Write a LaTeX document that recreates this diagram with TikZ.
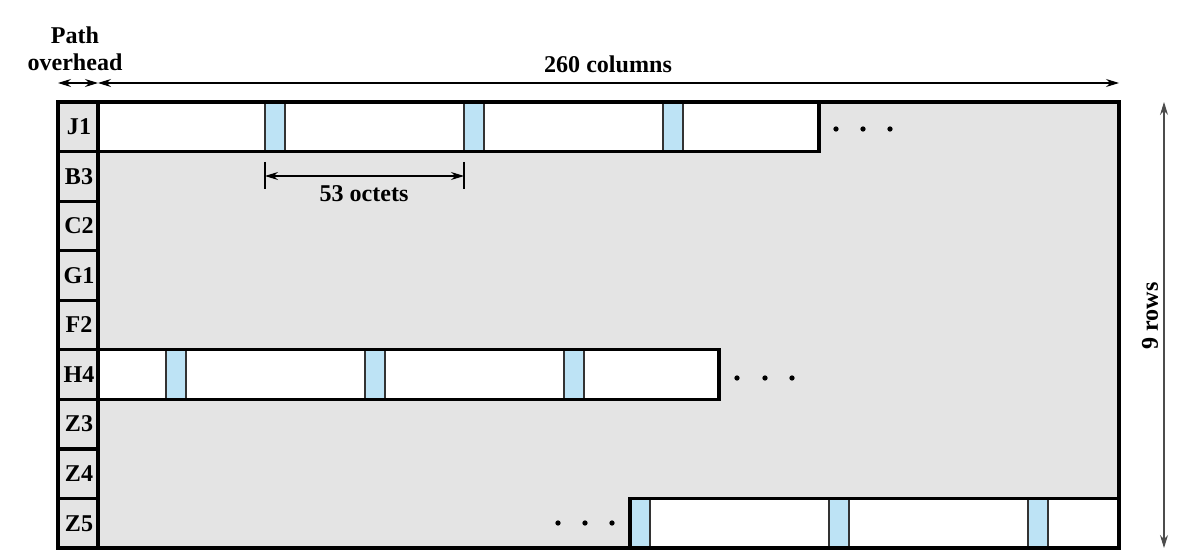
\documentclass[tikz,border=0pt]{standalone}
\usepackage{fontspec}
\setmainfont{Liberation Serif}
\usetikzlibrary{arrows.meta, positioning, calc}
\definecolor{cellgray}{HTML}{E4E4E4}
\definecolor{spe}{HTML}{BDE3F5}

\begin{document}
\begin{tikzpicture}[
    x=0.02cm, y=-0.02cm,
    font=\fontsize{13.7}{15.3}\selectfont\bfseries,
    outerframe/.style={draw=black, line width=1.8pt},
    rowcell/.style={draw=black, fill=cellgray, line width=1.8pt},
    payload/.style={draw=black, line width=1.8pt},
    overhead/.style={draw=black!80, fill=spe, line width=0.6pt},
    dimarrow/.style={{Stealth[length=2.6mm,width=1.6mm]}-{Stealth[length=2.6mm,width=1.6mm]}, line width=0.6pt},
    tick/.style={line width=0.6pt}
]
    \useasboundingbox[fill=white] (0,0) rectangle (1196,560);

    % frame area
    \fill[cellgray] (58,102) rectangle (1119,548);

    % payload rows with path overhead columns
    \fill[white] (98,102) rectangle (819,151.56);
    \foreach \x in {265,464,663}
        \draw[overhead] (\x,102) rectangle (\x+20,151.56);
    \draw[payload] (98,102) rectangle (819,151.56);

    \fill[white] (98,349.8) rectangle (719,399.36);
    \foreach \x in {166,365,564}
        \draw[overhead] (\x,349.8) rectangle (\x+20,399.36);
    \draw[payload] (98,349.8) rectangle (719,399.36);

    \fill[white] (630,498.44) rectangle (1119,548);
    \foreach \x in {630,829,1028}
        \draw[overhead] (\x,498.44) rectangle (\x+20,548);
    \draw[payload] (630,498.44) rectangle (1119,548);

    % dots
    \foreach \x in {836,863,890} \fill (\x,129) circle[radius=1.5pt];
    \foreach \x in {737,765,792} \fill (\x,378) circle[radius=1.5pt];
    \foreach \x in {558,585,612} \fill (\x,523) circle[radius=1.5pt];

    % overhead bytes
    \foreach \lab [count=\i] in {J1,B3,C2,G1,F2,H4,Z3,Z4,Z5} {
        \draw[rowcell] (58,{102+49.56*(\i-1)}) rectangle (98,{102+49.56*\i});
        \node (r\i) at (79,{102+49.56*(\i-0.5)}) {\lab};
    }
    \draw[outerframe] (58,102) rectangle (1119,548);

    % dimensions
    \coordinate (po west) at (58,83);
    \coordinate (po east) at (98,83);
    \coordinate (col east) at (1119,83);
    \node[align=center] (pohead) at (75,49) {Path\\overhead};
    \draw[dimarrow] (po west) -- (po east);
    \draw[dimarrow] (po east) -- (col east);
    \node (cols) at (608,64) {260 columns};

    \coordinate (rows top) at (1164,102);
    \coordinate (rows bot) at (1164,548);
    \draw[dimarrow, draw=black!70] (rows top) -- (rows bot);
    \node[rotate=90] (rows) at (1150,316) {9 rows};

    \coordinate (oct west) at (265,176);
    \coordinate (oct east) at (464,176);
    \draw[tick] (265,162) -- (265,189);
    \draw[tick] (464,162) -- (464,189);
    \draw[dimarrow] (oct west) -- (oct east);
    \node (octets) at (364,194) {53 octets};
\end{tikzpicture}
\end{document}
